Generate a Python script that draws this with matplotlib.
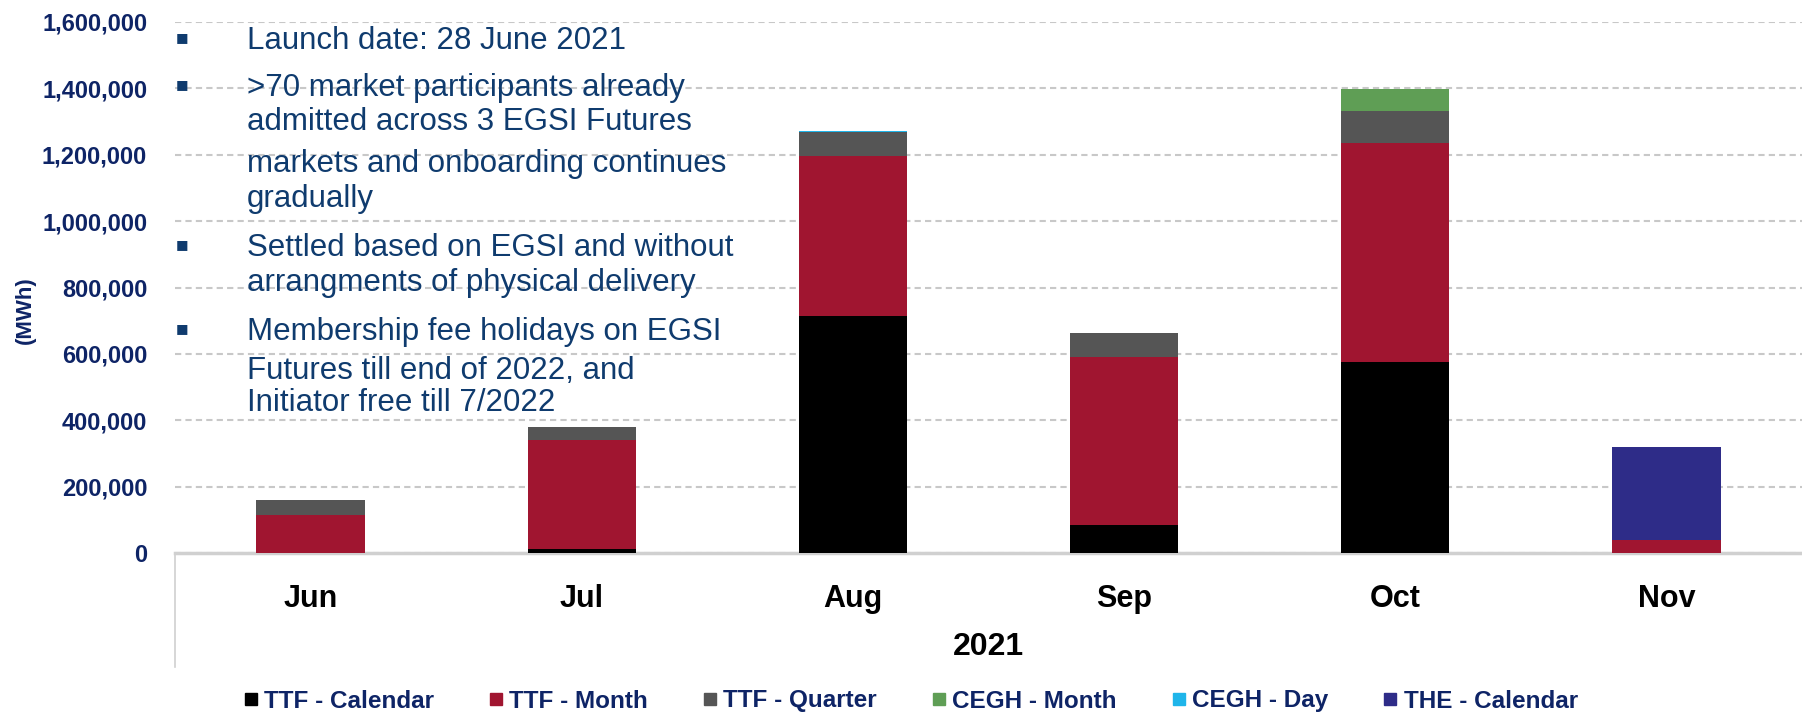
import matplotlib.pyplot as plt
from matplotlib.lines import Line2D
from matplotlib.ticker import FuncFormatter

plt.rcParams['font.family'] = ['Liberation Sans', 'DejaVu Sans']

# data (MWh)
months = ['Jun', 'Jul', 'Aug', 'Sep', 'Oct', 'Nov']
ttf_calendar = [0, 13000, 714000, 85000, 575000, 0]
ttf_month = [116000, 327000, 483000, 506000, 660000, 38000]
ttf_quarter = [43000, 40000, 71000, 73000, 97000, 0]
cegh_month = [0, 0, 0, 0, 65000, 0]
cegh_day = [0, 0, 4000, 0, 0, 0]
the_calendar = [0, 0, 0, 0, 0, 282000]

series_names = ['TTF - Calendar', 'TTF - Month', 'TTF - Quarter',
                'CEGH - Month', 'CEGH - Day', 'THE - Calendar']
series = [ttf_calendar, ttf_month, ttf_quarter, cegh_month, cegh_day, the_calendar]
colors = ['#000000', '#A01530', '#555555', '#5F9E55', '#1FB5EA', '#2E2C88']

bullets = [
    ['Launch date: 28 June 2021'],
    ['>70 market participants already', 'admitted across 3 EGSI Futures',
     'markets and onboarding continues', 'gradually'],
    ['Settled based on EGSI and without', 'arrangments of physical delivery'],
    ['Membership fee holidays on EGSI', 'Futures till end of 2022, and',
     'Initiator free till 7/2022'],
]

navy = '#0E2466'
text_blue = '#0F3B6E'
W, H = 1802, 716

fig = plt.figure(figsize=(W / 100, H / 100), dpi=100)
ax = fig.add_axes([175 / W, 1 - 553 / H, 1 - 175 / W, 531 / H])

x = range(len(months))
bottom = [0] * len(months)
for vals, c in zip(series, colors):
    ax.bar(x, vals, width=0.4, bottom=bottom, color=c, zorder=3)
    bottom = [b + v for b, v in zip(bottom, vals)]

ax.set_xlim(-0.5, 5.5)
ax.set_ylim(0, 1600000)
ax.set_yticks(range(0, 1600001, 200000))
ax.yaxis.set_major_formatter(FuncFormatter(lambda v, p: f'{int(v):,}'))
ax.grid(axis='y', linestyle=(0, (3, 2)), color='#C8C8C8', lw=1.5, zorder=0)
for s in ['top', 'right', 'left']:
    ax.spines[s].set_visible(False)
ax.spines['bottom'].set_color('#D0D0D0')
ax.spines['bottom'].set_linewidth(2.5)
ax.tick_params(axis='y', length=0, pad=20, labelsize=17, labelcolor=navy)
for t in ax.get_yticklabels():
    t.set_fontweight('bold')
ax.set_xticks(list(x), months)
ax.tick_params(axis='x', length=0, pad=22, labelsize=22)
for t in ax.get_xticklabels():
    t.set_fontweight('bold')

# year label and category separator line
ax.text(2.5, -(647 - 553) / 531, '2021', transform=ax.get_xaxis_transform(),
        ha='center', va='center', fontsize=23, fontweight='bold')
ax.plot([0, 0], [0, -(667 - 553) / 531], transform=ax.transAxes,
        color='#D0D0D0', lw=1.2, clip_on=False)

fig.text(25 / W, 1 - 310 / H, '(MWh)', rotation=90, ha='center', va='center',
         fontsize=16, fontweight='bold', color=navy)

# bullet text
line_y = [[41], [88, 122, 164, 199], [248, 283], [332, 371, 403]]
for lines, ys in zip(bullets, line_y):
    fig.text(182 / W, 1 - (ys[0] - 3) / H, '\u25a0', ha='center', va='center',
             fontsize=9.5, color=text_blue, family='DejaVu Sans')
    for txt, y in zip(lines, ys):
        fig.text(247 / W, 1 - y / H, txt, ha='left', va='center',
                 fontsize=22.5, color=text_blue)

handles = [Line2D([], [], marker='s', ls='', color=c, markersize=8) for c in colors]
leg = fig.legend(handles, series_names, loc='center', ncol=6,
                 bbox_to_anchor=(0.505, 1 - 701 / H), frameon=False,
                 handletextpad=0.2, columnspacing=2.2, handlelength=0.7,
                 prop={'size': 17.5, 'weight': 'bold'})
for t in leg.get_texts():
    t.set_color(navy)

fig.savefig('out.png', dpi=100)
